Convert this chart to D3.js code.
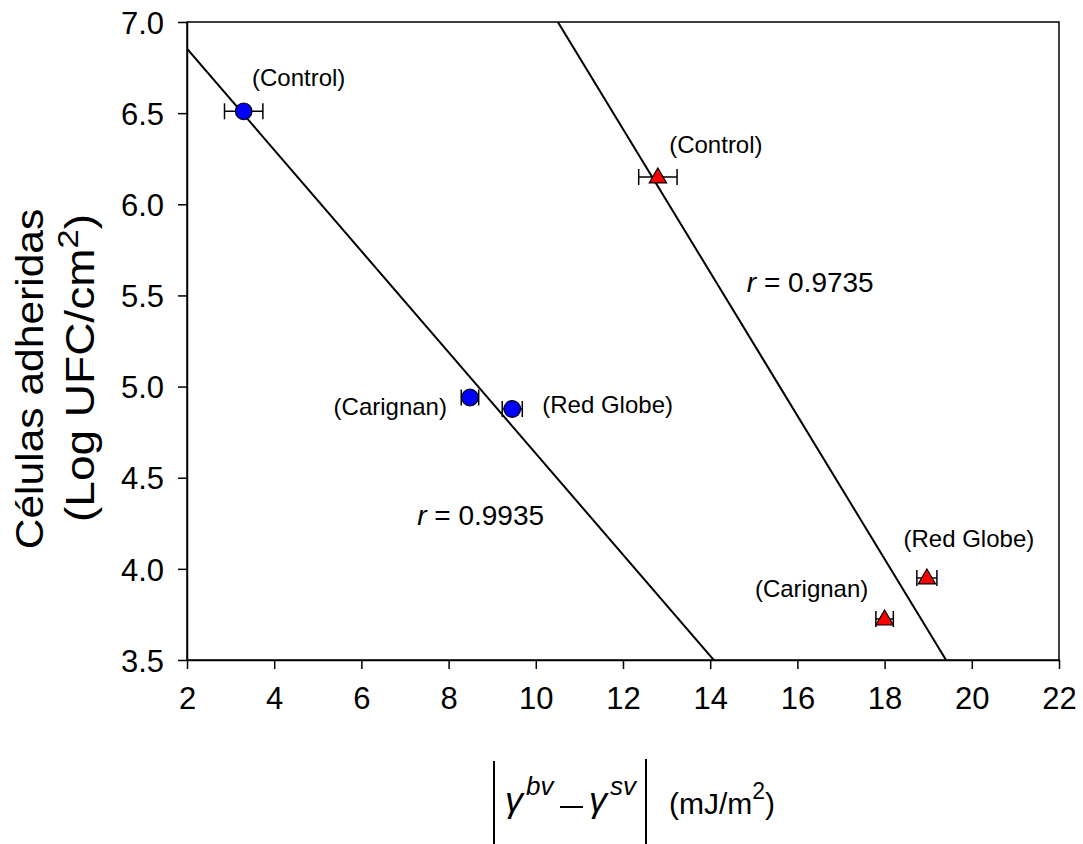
<!DOCTYPE html>
<html>
<head>
<meta charset="utf-8">
<script src="https://cdn.jsdelivr.net/npm/d3@7"></script>
<style>
  body { margin: 0; background: #fff; }
  svg text { font-family: "Liberation Sans", Arial, sans-serif; fill: #000; }
</style>
</head>
<body>
<svg id="chart" width="1083" height="844"></svg>
<script>
// data
var pointLabels = [ "(Control)", "(Carignan)", "(Red Globe)" ];
var blueX = [ 3.3, 8.49, 9.46 ];
var blueY = [ 6.51, 4.94, 4.877 ];
var blueErr = [ 0.44, 0.2, 0.23 ];
var redX = [ 12.8, 18.0, 18.97 ];
var redY = [ 6.15, 3.725, 3.95 ];
var redErr = [ 0.44, 0.2, 0.23 ];
var rLabels = [ "0.9935", "0.9735" ];
var xTicks = [ 2, 4, 6, 8, 10, 12, 14, 16, 18, 20, 22 ];
var yTicks = [ 3.5, 4.0, 4.5, 5.0, 5.5, 6.0, 6.5, 7.0 ];

var MARGIN = { left: 187, right: 24, top: 22, bottom: 184 };
var W = 1083, H = 844;

var svg = d3.select( "#chart" );

var x = d3.scaleLinear().domain( [ 2, 22 ] ).range( [ MARGIN.left, W - MARGIN.right ] );
var y = d3.scaleLinear().domain( [ 3.5, 7.0 ] ).range( [ H - MARGIN.bottom, MARGIN.top ] );

svg.append( "defs" ).append( "clipPath" ).attr( "id", "plot-clip" )
  .append( "rect" )
  .attr( "x", x( 2 ) ).attr( "y", y( 7 ) )
  .attr( "width", x( 22 ) - x( 2 ) ).attr( "height", y( 3.5 ) - y( 7 ) );

// frame
svg.append( "rect" )
  .attr( "x", x( 2 ) ).attr( "y", y( 7 ) )
  .attr( "width", x( 22 ) - x( 2 ) ).attr( "height", y( 3.5 ) - y( 7 ) )
  .attr( "fill", "none" ).attr( "stroke", "#000" ).attr( "stroke-width", 1.5 );

var xAxis = svg.append( "g" )
  .attr( "transform", "translate(0," + y( 3.5 ) + ")" )
  .call( d3.axisBottom( x ).tickValues( xTicks ).tickSize( 9 ).tickPadding( 18 ).tickSizeOuter( 0 ) );

var yAxis = svg.append( "g" )
  .attr( "transform", "translate(" + x( 2 ) + ",0)" )
  .call( d3.axisLeft( y ).tickValues( yTicks ).tickFormat( d3.format( ".1f" ) ).tickSize( 9 ).tickPadding( 14 ).tickSizeOuter( 0 ) );

[ xAxis, yAxis ].forEach( function( g ){
  g.select( ".domain" ).attr( "stroke-width", 1.5 );
  g.selectAll( ".tick line" ).attr( "stroke-width", 1.5 );
  g.selectAll( ".tick text" ).attr( "font-size", 31 ).attr( "font-family", "Liberation Sans, Arial, sans-serif" );
} );
yAxis.selectAll( ".tick text" ).attr( "dy", "0.36em" );

// regression lines
function fit( xs, ys ){
  var mx = d3.mean( xs ), my = d3.mean( ys );
  var sxy = d3.sum( xs, function( v, i ){ return ( v - mx ) * ( ys[ i ] - my ); } );
  var sxx = d3.sum( xs, function( v ){ return ( v - mx ) * ( v - mx ); } );
  var b = sxy / sxx;
  return { b: b, a: my - b * mx };
}

var lines = svg.append( "g" ).attr( "clip-path", "url(#plot-clip)" );
[ fit( blueX, blueY ), fit( redX, redY ) ].forEach( function( f ){
  lines.append( "line" )
    .attr( "x1", x( 2 ) ).attr( "y1", y( f.a + f.b * 2 ) )
    .attr( "x2", x( 22 ) ).attr( "y2", y( f.a + f.b * 22 ) )
    .attr( "stroke", "#000" ).attr( "stroke-width", 2 );
} );

// error bars + markers
function drawSeries( xs, ys, errs, kind ){
  var g = svg.append( "g" );
  xs.forEach( function( v, i ){
    var cy = y( ys[ i ] );
    var x0 = x( v - errs[ i ] ), x1 = x( v + errs[ i ] );
    g.append( "line" ).attr( "x1", x0 ).attr( "x2", x1 ).attr( "y1", cy ).attr( "y2", cy )
      .attr( "stroke", "#000" ).attr( "stroke-width", 1.5 );
    [ x0, x1 ].forEach( function( cx ){
      g.append( "line" ).attr( "x1", cx ).attr( "x2", cx ).attr( "y1", cy - 8 ).attr( "y2", cy + 8 )
        .attr( "stroke", "#000" ).attr( "stroke-width", 1.5 );
    } );
    if( kind == "circle" ){
      g.append( "circle" ).attr( "cx", x( v ) ).attr( "cy", cy ).attr( "r", 8.3 )
        .attr( "fill", "#0000ff" ).attr( "stroke", "#000" ).attr( "stroke-width", 1.2 );
    } else {
      g.append( "path" )
        .attr( "d", d3.symbol().type( d3.symbolTriangle ).size( 130 ) )
        .attr( "transform", "translate(" + x( v ) + "," + ( cy + 1 ) + ")" )
        .attr( "fill", "#ff0000" ).attr( "stroke", "#000" ).attr( "stroke-width", 1.2 );
    }
  } );
}
drawSeries( blueX, blueY, blueErr, "circle" );
drawSeries( redX, redY, redErr, "triangle" );

// point labels (pixel offsets from each marker)
var blueOffsets = [ [ 55, -25, "middle" ], [ -23, 17, "end" ], [ 30, 4, "start" ] ];
var redOffsets = [ [ 58, -24, "middle" ], [ -73, -22, "middle" ], [ 42, -31, "middle" ] ];
function drawLabels( xs, ys, offs ){
  xs.forEach( function( v, i ){
    svg.append( "text" )
      .attr( "x", x( v ) + offs[ i ][ 0 ] ).attr( "y", y( ys[ i ] ) + offs[ i ][ 1 ] )
      .attr( "text-anchor", offs[ i ][ 2 ] ).attr( "font-size", 24 )
      .text( pointLabels[ i ] );
  } );
}
drawLabels( blueX, blueY, blueOffsets );
drawLabels( redX, redY, redOffsets );

// r labels
var rPos = [ [ 7.28, 4.24 ], [ 14.84, 5.52 ] ];
rLabels.forEach( function( r, i ){
  var t = svg.append( "text" ).attr( "x", x( rPos[ i ][ 0 ] ) ).attr( "y", y( rPos[ i ][ 1 ] ) ).attr( "font-size", 28 );
  t.append( "tspan" ).attr( "font-style", "italic" ).text( "r" );
  t.append( "tspan" ).text( " = " + r );
} );

// y axis title (slightly stretched along the text, like the original)
svg.append( "text" )
  .attr( "transform", "translate(43,379) rotate(-90) scale(1.12,1)" )
  .attr( "text-anchor", "middle" ).attr( "font-size", 38 )
  .text( "Células adheridas" );
var yt = svg.append( "text" )
  .attr( "transform", "translate(94,368) rotate(-90) scale(1.15,1)" )
  .attr( "text-anchor", "middle" ).attr( "font-size", 40 );
yt.append( "tspan" ).text( "(Log UFC/cm" );
yt.append( "tspan" ).attr( "font-size", 30 ).attr( "dy", -16 ).text( "2" );
yt.append( "tspan" ).attr( "dy", 16 ).text( ")" );

// x axis title: |γ^bv − γ^sv| (mJ/m2)
var xt = svg.append( "g" );
xt.append( "line" ).attr( "x1", 494 ).attr( "x2", 494 ).attr( "y1", 761 ).attr( "y2", 844 )
  .attr( "stroke", "#000" ).attr( "stroke-width", 2 );
xt.append( "line" ).attr( "x1", 646 ).attr( "x2", 646 ).attr( "y1", 759 ).attr( "y2", 844 )
  .attr( "stroke", "#000" ).attr( "stroke-width", 2 );
function gammaTerm( gx, sup ){
  xt.append( "text" ).attr( "x", gx ).attr( "y", 812 )
    .attr( "font-family", "DejaVu Serif, serif" )
    .attr( "font-style", "italic" ).attr( "font-size", 36 ).text( "γ" );
  xt.append( "text" ).attr( "x", gx + 21 ).attr( "y", 795 )
    .attr( "font-style", "italic" ).attr( "font-size", 26 ).text( sup );
}
gammaTerm( 505, "bv" );
xt.append( "line" ).attr( "x1", 560 ).attr( "x2", 583 ).attr( "y1", 807 ).attr( "y2", 807 )
  .attr( "stroke", "#000" ).attr( "stroke-width", 2 );
gammaTerm( 589, "sv" );
var unit = xt.append( "text" ).attr( "x", 669 ).attr( "y", 814 ).attr( "font-size", 30 );
unit.append( "tspan" ).text( "(mJ/m" );
unit.append( "tspan" ).attr( "font-size", 23 ).attr( "dy", -15 ).text( "2" );
unit.append( "tspan" ).attr( "dy", 15 ).text( ")" );
</script>
</body>
</html>
